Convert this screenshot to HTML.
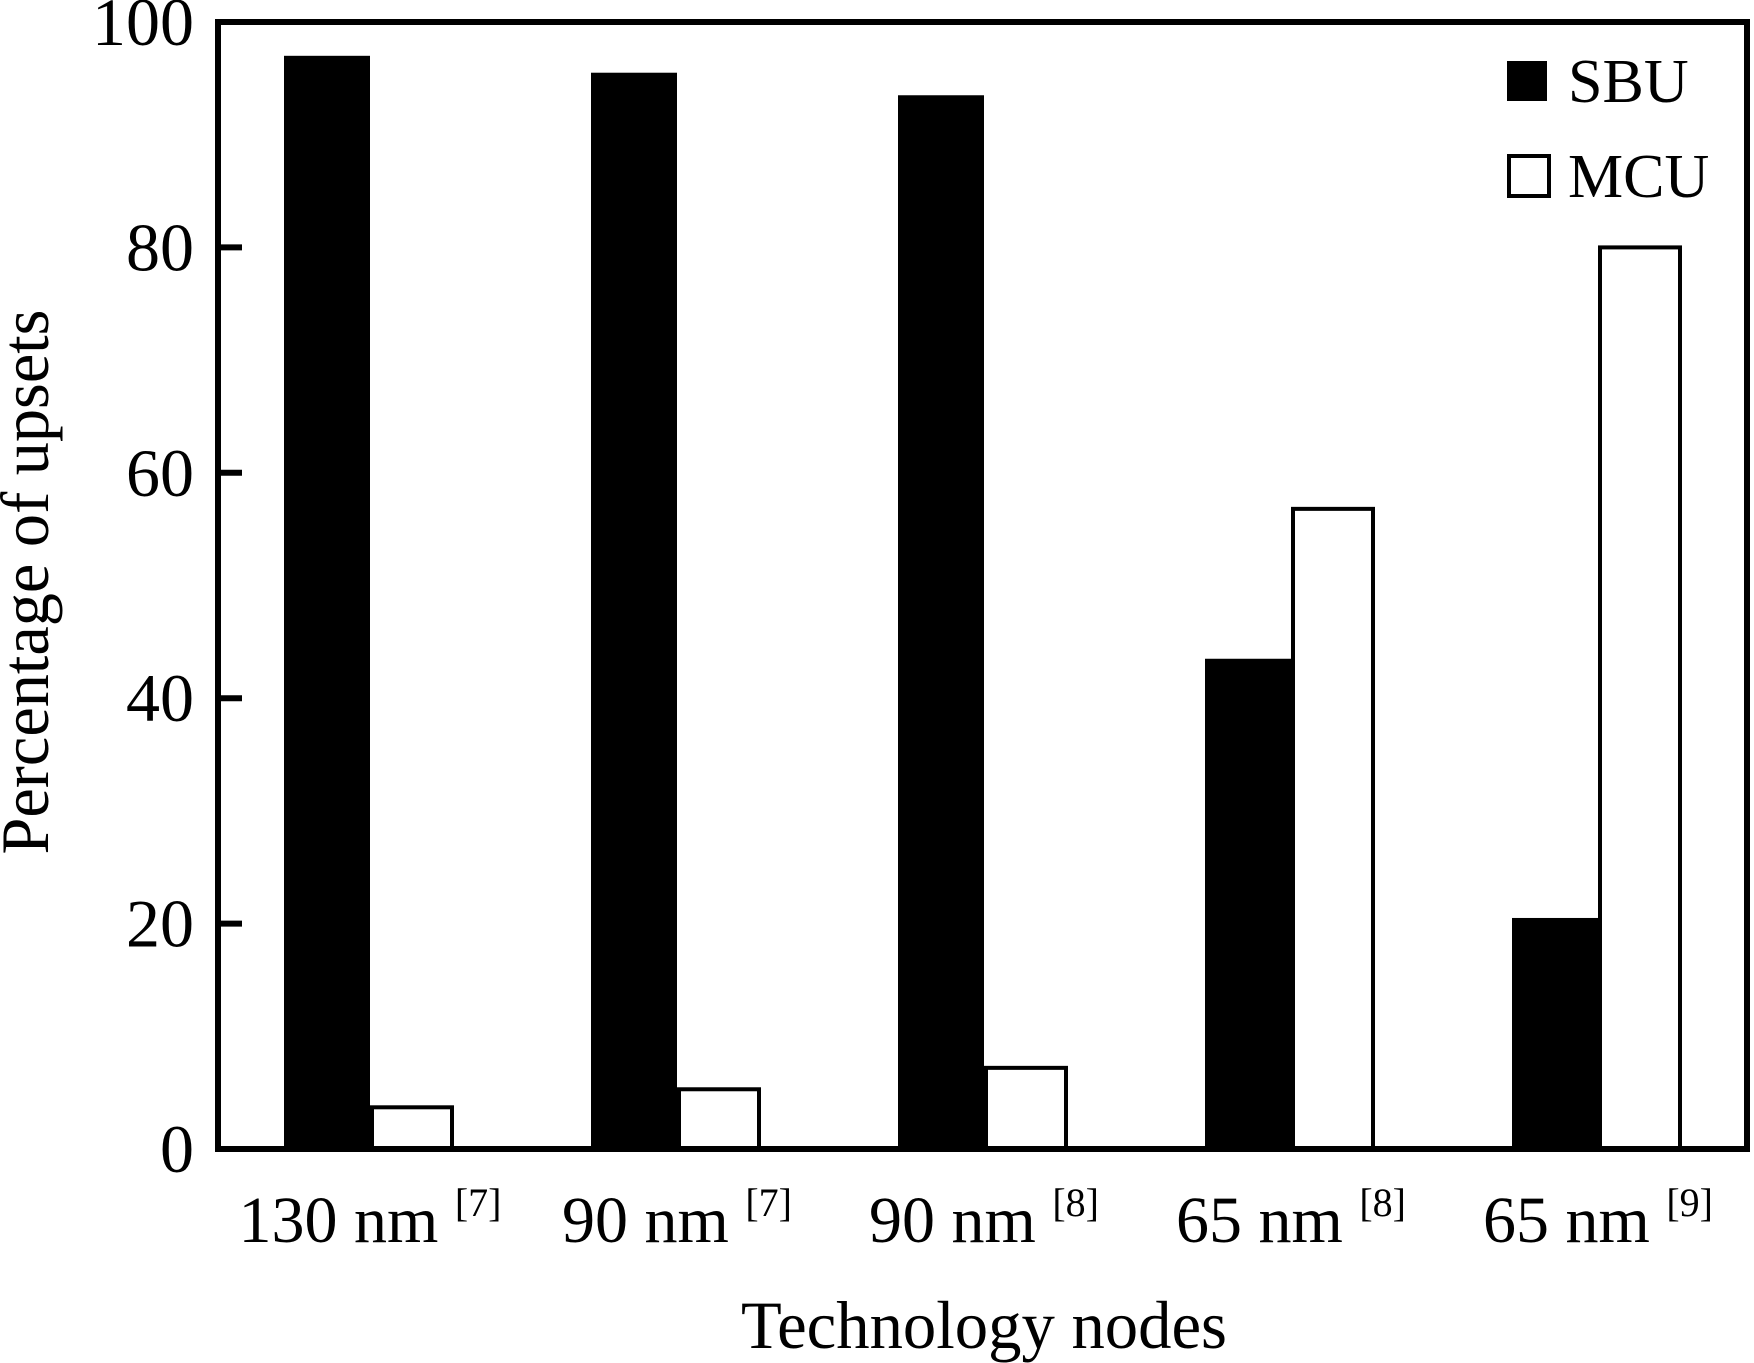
<!DOCTYPE html>
<html><head><meta charset="utf-8"><style>
html,body{margin:0;padding:0;background:#fff;}
svg{display:block;font-family:"Liberation Serif",serif;}
</style></head><body>
<svg id="chart" width="1754" height="1363" viewBox="0 0 1754 1363" xmlns="http://www.w3.org/2000/svg">
<g id="plot"></g>
</svg>
<script>
const categories = ["130 nm", "90 nm", "90 nm", "65 nm", "65 nm"];
const refs = ["[7]", "[7]", "[8]", "[8]", "[9]"];
const sbuValues = [97, 95.5, 93.5, 43.5, 20.5];
const mcuValues = [3.7, 5.3, 7.2, 56.8, 80];
const yTicks = [0, 20, 40, 60, 80, 100];

const NS = "http://www.w3.org/2000/svg";
const g = document.getElementById("plot");
const L = 218, R = 1750, T = 22, B = 1149;
const groupStart = 370, groupStep = 307, barW = 86;
function y(v){ return B - (B - T) * v / 100; }
function xc(i){ return groupStart + groupStep * i; }
function mk(tag, attrs, text){
  const e = document.createElementNS(NS, tag);
  for (const k in attrs) e.setAttribute(k, attrs[k]);
  if (text !== undefined) e.textContent = text;
  g.appendChild(e);
  return e;
}
categories.forEach((c, i) => {
  const s = mk("rect", {x: xc(i) - barW, y: y(sbuValues[i]), width: barW, height: B - y(sbuValues[i]), fill: "#000"});
  
  
  const m = mk("rect", {x: xc(i) + 2, y: y(mcuValues[i]), width: barW - 6, height: B - y(mcuValues[i]), fill: "#fff", stroke: "#000", "stroke-width": 4});
  
  
  const t = mk("text", {x: xc(i), y: 1242, "text-anchor": "middle", "font-size": 66});
  
  
  const t1 = document.createElementNS(NS, "tspan"); t1.textContent = c + " "; t.appendChild(t1);
  const t2 = document.createElementNS(NS, "tspan"); t2.setAttribute("font-size", 40); t2.setAttribute("dy", -26); t2.textContent = refs[i]; t.appendChild(t2);
});
yTicks.forEach(v => {
  if (v > 0 && v < 100) {
    const tk = mk("line", {x1: L, x2: L + 24, y1: y(v), y2: y(v), stroke: "#000", "stroke-width": 6});
    
    
  }
  const lb = mk("text", {x: 194, y: y(v) + 23, "text-anchor": "end", "font-size": 68}, String(v));
  
  
});
const frame = mk("rect", {x: L, y: T, width: R - L - 3, height: B - T, fill: "none", stroke: "#000", "stroke-width": 6});


const ls = mk("rect", {x: 1507, y: 61, width: 40, height: 40, fill: "#000"});


const lt = mk("text", {x: 1568, y: 102, "font-size": 62}, "SBU");


const ms = mk("rect", {x: 1509, y: 156, width: 40, height: 40, fill: "#fff", stroke: "#000", "stroke-width": 4});


const mt = mk("text", {x: 1568, y: 197, "font-size": 62}, "MCU");


const xt = mk("text", {x: 984, y: 1348, "text-anchor": "middle", "font-size": 68, textLength: 486, lengthAdjust: "spacingAndGlyphs"}, "Technology nodes");


const yt = mk("text", {x: 0, y: 0, "text-anchor": "middle", "font-size": 68, textLength: 545, lengthAdjust: "spacingAndGlyphs", transform: "translate(48,582) rotate(-90)"}, "Percentage of upsets");


</script>
</body></html>
